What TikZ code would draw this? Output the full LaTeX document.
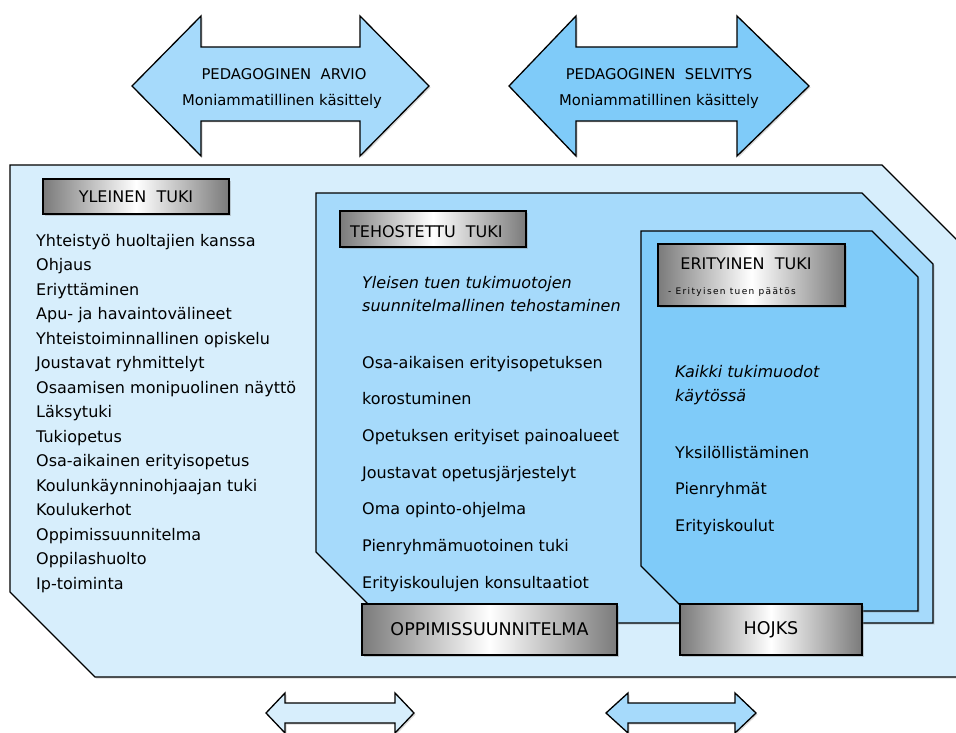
\documentclass[tikz,border=0pt]{standalone}
\usepackage{fontspec}
\setmainfont{DejaVu Sans}
\usetikzlibrary{shadows}
\definecolor{outerblue}{HTML}{D7EEFC}
\definecolor{midblue}{HTML}{A6DAFB}
\definecolor{innerblue}{HTML}{7FCBF9}
\begin{document}
\begin{tikzpicture}[x=1pt,y=-1pt,
  panel/.style={fill=#1, draw=black, line width=1.3pt, line join=miter,
    drop shadow={shadow xshift=1.5pt, shadow yshift=-1.5pt, opacity=0.3}},
  graybox/.style={draw=black, line width=1.5pt, left color=black!52, right color=black!52,
    middle color=white, inner sep=0pt,
    drop shadow={shadow xshift=1.5pt, shadow yshift=-1.5pt, opacity=0.35}},
  titletext/.style={inner sep=0pt, font=\fontsize{16}{19}\selectfont},
  bigtitle/.style={font=\fontsize{17.5}{20}\selectfont},
  item/.style={anchor=base west, inner sep=0pt, font=\fontsize{16}{19}\selectfont},
  itemit/.style={anchor=base west, inner sep=0pt, font=\fontsize{16}{19}\selectfont\itshape},
  toptext/.style={anchor=base, inner sep=0pt, font=\fontsize{14.8}{17}\selectfont}
]
\useasboundingbox (0,0) rectangle (956,733);
\clip (0,0) rectangle (956,733);

% top double arrows
\filldraw[panel=midblue] (132,86) -- (201,16) -- (201,47) -- (360,47) -- (360,16) -- (429,86)
  -- (360,156) -- (360,121) -- (201,121) -- (201,156) -- cycle;
\filldraw[panel=innerblue] (509,86) -- (576,16) -- (576,47) -- (737,47) -- (737,16) -- (809,86)
  -- (737,156) -- (737,121) -- (576,121) -- (576,156) -- cycle;
\node[toptext] (arvio) at (284,80) {PEDAGOGINEN\ \ ARVIO};
\node[toptext] (arvio2) at (282,106) {Moniammatillinen käsittely};
\node[toptext] (selv) at (659,80) {PEDAGOGINEN\ \ SELVITYS};
\node[toptext] (selv2) at (659,106) {Moniammatillinen käsittely};

% nested panels
\filldraw[panel=outerblue] (10,165) -- (882,165) -- (970,253) -- (970,677) -- (95,677) -- (10,592) -- cycle;
\filldraw[panel=midblue] (316,193) -- (862,193) -- (933,264) -- (933,623) -- (387,623) -- (316,552) -- cycle;
\filldraw[panel=innerblue] (641,231) -- (872,231) -- (918,277) -- (918,611) -- (686,611) -- (641,566) -- cycle;

% bottom double arrows
\filldraw[panel=outerblue] (266,713) -- (285,693) -- (285,703) -- (395,703) -- (395,693) -- (414,713)
  -- (395,733) -- (395,723) -- (285,723) -- (285,733) -- cycle;
\filldraw[panel=midblue] (606,713) -- (628,693) -- (628,703) -- (735,703) -- (735,693) -- (756,713)
  -- (735,733) -- (735,723) -- (628,723) -- (628,733) -- cycle;

% title boxes
\node[graybox, titletext, minimum width=186pt, minimum height=35pt] (yleinen) at (136,196.5) {YLEINEN\ \ TUKI};
\node[graybox, minimum width=186pt, minimum height=36pt] (tehost) at (433,229) {};
\node[titletext, anchor=base west] (tehostT) at (350,237) {TEHOSTETTU\ \ TUKI};
\node[graybox, minimum width=187pt, minimum height=62pt] (erit) at (751.5,275) {};
\node[titletext, anchor=base] (eritT) at (746,269) {ERITYINEN\ \ TUKI};
\node[anchor=base west, inner sep=0pt, font=\fontsize{9}{11}\selectfont\addfontfeature{LetterSpace=15}] (eritS) at (668,294) {- Erityisen tuen päätös};
\node[graybox, bigtitle, minimum width=255pt, minimum height=51pt] (oppim) at (489.5,629.5) {OPPIMISSUUNNITELMA};
\node[graybox, bigtitle, minimum width=182pt, minimum height=51pt] (hojks) at (771,629.5) {HOJKS};

% Yleinen list
\foreach \t [count=\i] in {Yhteistyö huoltajien kanssa, Ohjaus, Eriyttäminen, Apu- ja havaintovälineet,
  Yhteistoiminnallinen opiskelu, Joustavat ryhmittelyt, Osaamisen monipuolinen näyttö, Läksytuki,
  Tukiopetus, Osa-aikainen erityisopetus, Koulunkäynninohjaajan tuki, Koulukerhot,
  Oppimissuunnitelma, Oppilashuolto, Ip-toiminta}
  \node[item] (yl\i) at (36,{246+24.5*(\i-1)}) {\t};

% Tehostettu
\node[itemit] (teh1) at (362,288) {Yleisen tuen tukimuotojen};
\node[itemit] (teh2) at (362,311) {suunnitelmallinen tehostaminen};
\foreach \t [count=\i] in {Osa-aikaisen erityisopetuksen, korostuminen, Opetuksen erityiset painoalueet,
  Joustavat opetusjärjestelyt, Oma opinto-ohjelma, Pienryhmämuotoinen tuki, Erityiskoulujen konsultaatiot}
  \node[item] (te\i) at (362,{368+36.67*(\i-1)}) {\t};

% Erityinen
\node[itemit] (er1) at (675,377) {Kaikki tukimuodot};
\node[itemit] (er2) at (675,401) {käytössä};
\node[item] (er3) at (675,458) {Yksilöllistäminen};
\node[item] (er4) at (675,494) {Pienryhmät};
\node[item] (er5) at (675,531) {Erityiskoulut};
\end{tikzpicture}
\end{document}
